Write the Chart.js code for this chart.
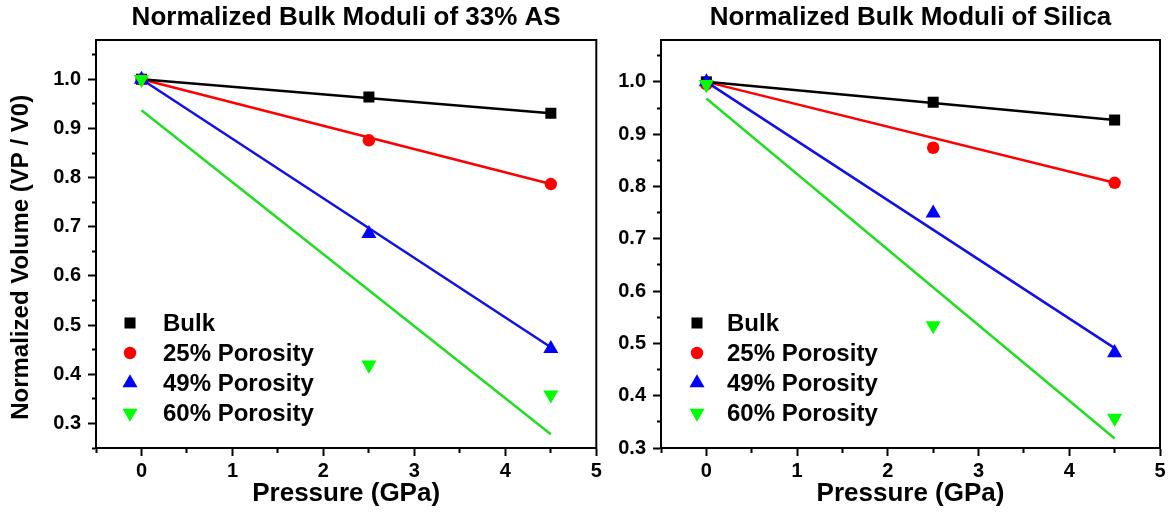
<!DOCTYPE html>
<html>
<head>
<meta charset="utf-8">
<script src="https://cdn.jsdelivr.net/npm/chart.js@4/dist/chart.umd.min.js"></script>
<style>
  html, body { margin: 0; padding: 0; background: #fff; }
  #wrap { position: relative; width: 1175px; height: 531px; }
  canvas { position: absolute; top: 0; }
  #left { left: 0; }
  #right { left: 605px; }
</style>
</head>
<body>
<div id="wrap">
  <canvas id="left" width="605" height="531"></canvas>
  <canvas id="right" width="570" height="531"></canvas>
</div>
<script>
// measured pressures (GPa) and end points of the fitted lines
var pressure = [0, 2.5, 4.5];
var fitPressure = [0, 4.5];
var seriesNames = ['Bulk', '25% Porosity', '49% Porosity', '60% Porosity'];

// 33% AS panel
var asBulk = [1.0, 0.964, 0.931];
var as25 = [1.0, 0.876, 0.787];
var as49 = [1.0, 0.686, 0.452];
var as60 = [1.0, 0.419, 0.358];
var asFitBulk = [1.0, 0.931];
var asFit25 = [1.0, 0.787];
var asFit49 = [1.0, 0.455];
var asFit60 = [0.937, 0.278];

// silica panel
var siBulk = [1.0, 0.961, 0.927];
var si25 = [0.995, 0.874, 0.807];
var si49 = [1.0, 0.749, 0.482];
var si60 = [0.995, 0.534, 0.357];
var siFitBulk = [1.0, 0.927];
var siFit25 = [1.0, 0.807];
var siFit49 = [1.0, 0.491];
var siFit60 = [0.968, 0.318];

// tick positions (labels only on whole numbers / tenths)
var xTickValues = [-0.5, 0, 0.5, 1, 1.5, 2, 2.5, 3, 3.5, 4, 4.5, 5];
var yTickValuesAS = [0.25, 0.3, 0.35, 0.4, 0.45, 0.5, 0.55, 0.6, 0.65, 0.7, 0.75, 0.8, 0.85, 0.9, 0.95, 1.0, 1.05];
var yTickValuesSi = [0.3, 0.35, 0.4, 0.45, 0.5, 0.55, 0.6, 0.65, 0.7, 0.75, 0.8, 0.85, 0.9, 0.95, 1.0, 1.05];

var colors = ['#000000', '#ff0000', '#0000ff', '#00ff00'];
var lineColors = ['#000000', '#ff0000', '#1010e8', '#22dd22'];
var styles = ['rect', 'circle', 'triangle', 'triangle'];
var rotations = [0, 0, 0, 180];
var radii = [7.8, 6.2, 8.7, 8.7];

var FONT = '"Liberation Sans", Arial, sans-serif';
Chart.defaults.font.family = FONT;
Chart.defaults.color = '#000';

function isTenth(v) { return Math.abs(v * 10 - Math.round(v * 10)) < 1e-6; }

function drawMarker(ctx, i, x, y) {
  var r = radii[i];
  ctx.save();
  ctx.fillStyle = colors[i];
  ctx.translate(x, y);
  ctx.rotate(rotations[i] * Math.PI / 180);
  ctx.beginPath();
  if (styles[i] === 'rect') {
    var s = r * Math.SQRT1_2;
    ctx.rect(-s, -s, 2 * s, 2 * s);
  } else if (styles[i] === 'circle') {
    ctx.arc(0, 0, r, 0, Math.PI * 2);
  } else {
    for (var k = 0; k < 3; k++) {
      var a = k * Math.PI * 2 / 3;
      ctx.lineTo(Math.sin(a) * r, -Math.cos(a) * r);
    }
    ctx.closePath();
  }
  ctx.fill();
  ctx.restore();
}

// title over plot area, box around it, legend in lower left
var panelPlugin = {
  id: 'panel',
  afterDraw: function (chart, args, opts) {
    var ctx = chart.ctx, a = chart.chartArea;
    ctx.save();
    ctx.lineWidth = 2;
    ctx.strokeStyle = '#000';
    ctx.strokeRect(a.left, a.top, a.right - a.left, a.bottom - a.top);

    ctx.fillStyle = '#000';
    ctx.font = 'bold 26px ' + FONT;
    ctx.textAlign = 'center';
    ctx.textBaseline = 'middle';
    ctx.fillText(opts.text, (a.left + a.right) / 2, 18);

    ctx.font = 'bold 24px ' + FONT;
    ctx.textAlign = 'left';
    var rows = [125, 95, 65, 35];
    for (var i = 0; i < seriesNames.length; i++) {
      var y = a.bottom - rows[i];
      drawMarker(ctx, i, a.left + opts.markerX, y);
      ctx.fillStyle = '#000';
      ctx.fillText(seriesNames[i], a.left + opts.textX, y + 1);
    }
    ctx.restore();
  }
};

function makePanel(id, title, points, fits, yMin, yTicks, yTitle, yWidth, padRight, legendPos) {
  var datasets = [];
  fits.forEach(function (vals, i) {
    datasets.push({
      label: seriesNames[i] + ' fit',
      data: fitPressure.map(function (x, j) { return { x: x, y: vals[j] }; }),
      showLine: true,
      borderColor: lineColors[i],
      borderWidth: 2.5,
      pointRadius: 0,
      order: 10 + i
    });
  });
  points.forEach(function (vals, i) {
    datasets.push({
      label: seriesNames[i],
      data: pressure.map(function (x, j) { return { x: x, y: vals[j] }; }),
      showLine: false,
      pointStyle: styles[i],
      pointRotation: rotations[i],
      pointRadius: radii[i],
      pointBackgroundColor: colors[i],
      pointBorderColor: colors[i],
      pointBorderWidth: 0,
      order: 4 - i
    });
  });

  return new Chart(document.getElementById(id), {
    type: 'scatter',
    data: { datasets: datasets },
    options: {
      responsive: false,
      animation: false,
      layout: { padding: { top: 40, right: padRight, left: 0, bottom: 0 } },
      plugins: {
        legend: { display: false },
        tooltip: { enabled: false },
        panel: { text: title, markerX: legendPos[0], textX: legendPos[1] }
      },
      scales: {
        x: {
          type: 'linear',
          min: -0.5,
          max: 5,
          afterBuildTicks: function (s) { s.ticks = xTickValues.map(function (v) { return { value: v }; }); },
          afterFit: function (s) { s.height = 83; },
          ticks: {
            autoSkip: false,
            maxRotation: 0,
            padding: 3,
            color: '#000',
            font: { size: 20, weight: 'bold' },
            callback: function (v) { return Number.isInteger(v) ? String(v) : ''; }
          },
          grid: {
            drawOnChartArea: false,
            tickLength: 8,
            tickColor: '#000',
            tickWidth: 2,
            tickBorderDash: function (c) { return Number.isInteger(c.tick.value) ? [] : [4, 100]; }
          },
          border: { display: true, color: '#000', width: 2 },
          title: {
            display: true,
            text: 'Pressure (GPa)',
            color: '#000',
            font: { size: 26, weight: 'bold' },
            padding: { top: 0, bottom: 22 }
          }
        },
        y: {
          type: 'linear',
          min: yMin,
          max: 1.08,
          afterBuildTicks: function (s) { s.ticks = yTicks.map(function (v) { return { value: v }; }); },
          afterFit: function (s) { s.width = yWidth; },
          ticks: {
            autoSkip: false,
            padding: 7,
            color: '#000',
            font: { size: 20, weight: 'bold' },
            callback: function (v) { return isTenth(v) ? v.toFixed(1) : ''; }
          },
          grid: {
            drawOnChartArea: false,
            tickLength: 8,
            tickColor: '#000',
            tickWidth: 2,
            tickBorderDash: function (c) { return isTenth(c.tick.value) ? [] : [0, 4, 4, 100]; }
          },
          border: { display: true, color: '#000', width: 2 },
          title: {
            display: !!yTitle,
            text: yTitle,
            color: '#000',
            font: { size: 24, weight: 'bold' },
            padding: { top: 7, bottom: 0 }
          }
        }
      }
    },
    plugins: [panelPlugin]
  });
}

makePanel('left', 'Normalized Bulk Moduli of 33% AS',
  [asBulk, as25, as49, as60], [asFitBulk, asFit25, asFit49, asFit60],
  0.25, yTickValuesAS, 'Normalized Volume (VP / V0)    ', 96, 8, [34, 67]);

makePanel('right', 'Normalized Bulk Moduli of Silica',
  [siBulk, si25, si49, si60], [siFitBulk, siFit25, siFit49, siFit60],
  0.3, yTickValuesSi, '', 56, 15, [36, 66]);
</script>
</body>
</html>
